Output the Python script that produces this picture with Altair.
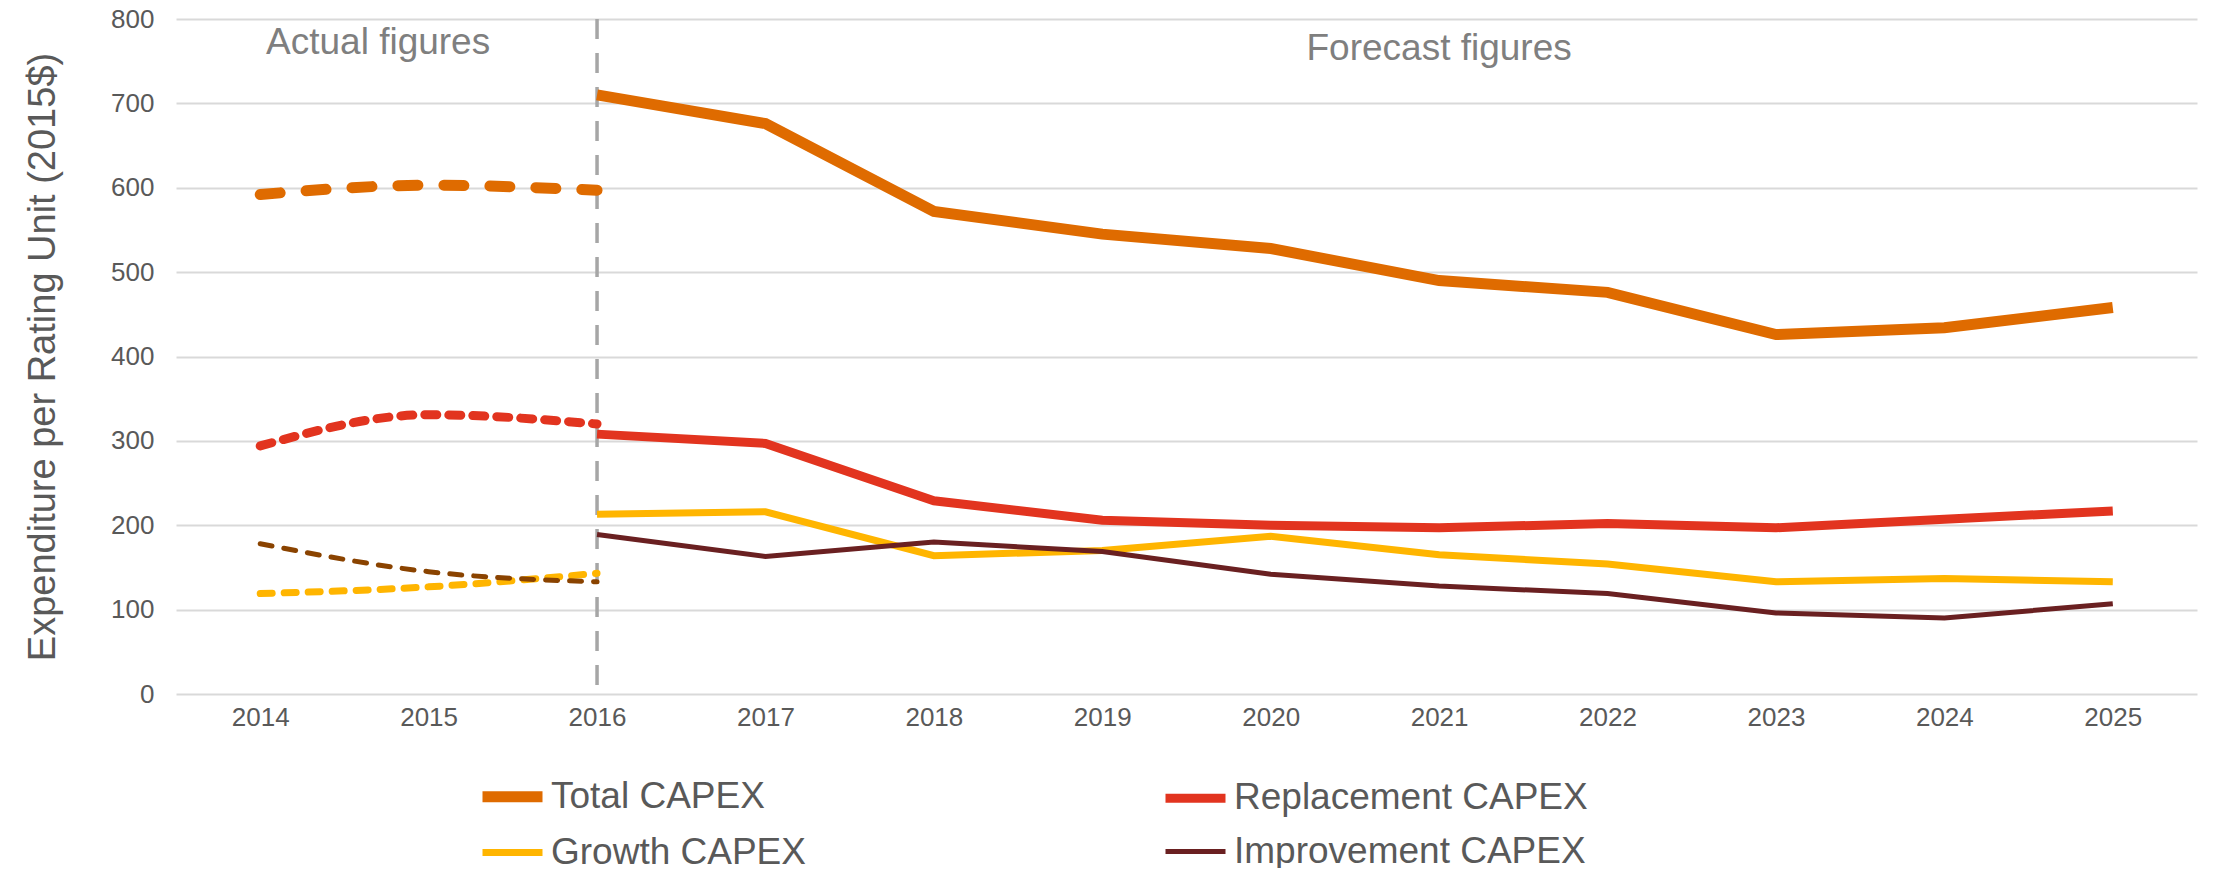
import altair as alt
import pandas as pd

series_names = ["Total CAPEX", "Replacement CAPEX", "Growth CAPEX", "Improvement CAPEX"]
solid_colors = ["#DF6B00", "#E2341F", "#FFB500", "#6A2021"]
dashed_colors = ["#DF6B00", "#E2341F", "#FFB500", "#8A4300"]
line_widths = [11, 5, 5, 5]

actual_years = [2014, 2015, 2016]
actual_total = [592, 603, 597]
actual_replacement = [294, 331, 320]
actual_growth = [119, 127, 143]
actual_improvement = [178, 145, 133]

forecast_years = [2016, 2017, 2018, 2019, 2020, 2021, 2022, 2023, 2024, 2025]
forecast_total = [710, 676, 572, 545, 528, 490, 476, 426, 434, 458]
forecast_replacement = [308, 297, 229, 206, 200, 197, 202, 197, 207, 217]
forecast_growth = [213, 216, 164, 170, 187, 165, 154, 133, 137, 133]
forecast_improvement = [189, 163, 180, 169, 142, 128, 119, 96, 90, 107]

year_ticks = list(range(2014, 2026))
value_ticks = [0, 100, 200, 300, 400, 500, 600, 700, 800]
divider_year = 2016

annotations = ["Actual figures", "Forecast figures"]
annotation_x = [2014.7, 2021.0]
annotation_y = [758, 752]

FONT = "Liberation Sans"


def long_table(years, cols):
    rows = []
    for name, vals in zip(series_names, cols):
        for yr, v in zip(years, vals):
            rows.append({"year": yr, "value": v, "series": name})
    return pd.DataFrame(rows)


actual_df = long_table(actual_years, [actual_total, actual_replacement, actual_growth, actual_improvement])
forecast_df = long_table(forecast_years, [forecast_total, forecast_replacement, forecast_growth, forecast_improvement])
ann_df = pd.DataFrame({"year": annotation_x, "value": annotation_y, "label": annotations})

x_enc = alt.X(
    "year:Q",
    scale=alt.Scale(domain=[2013.5, 2025.5], nice=False, zero=False),
    axis=alt.Axis(values=year_ticks, format="d", title=None, grid=False, ticks=False, domain=False,
                  labelFontSize=26, labelColor="#595959", labelFont=FONT, labelPadding=10),
)
y_enc = alt.Y(
    "value:Q",
    scale=alt.Scale(domain=[0, 800], nice=False),
    axis=alt.Axis(values=value_ticks, title="Expenditure per Rating Unit (2015$)", titleFontSize=38,
                  titleFontWeight="normal", titleColor="#595959", titleFont=FONT, titlePadding=48,
                  labelFontSize=26, labelColor="#595959", labelFont=FONT, labelPadding=22,
                  gridColor="#D9D9D9", gridWidth=2, domain=False, ticks=False),
)

divider = alt.Chart(pd.DataFrame({"year": [divider_year]})).mark_rule(
    color="#A6A6A6", strokeWidth=3.5, strokeDash=[20, 14]
).encode(x=alt.X("year:Q"))

actual = alt.Chart(actual_df).mark_line(interpolate="monotone", strokeCap="round").encode(
    x=x_enc,
    y=y_enc,
    color=alt.Color("series:N", scale=alt.Scale(domain=series_names, range=dashed_colors), legend=None),
    strokeWidth=alt.StrokeWidth("series:N", scale=alt.Scale(domain=series_names, range=line_widths), legend=None),
    strokeDash=alt.StrokeDash("series:N", scale=alt.Scale(domain=series_names,
                                                          range=[[20, 26], [12, 12], [12, 12], [12, 12]]), legend=None),
)

legend = alt.Legend(
    title=None, orient="none", legendX=301, legendY=742, columns=2, columnPadding=341, rowPadding=-14,
    direction="horizontal",
    symbolType="stroke", symbolSize=3600, labelFontSize=37, labelColor="#595959", labelFont=FONT,
    labelOffset=3, labelLimit=0,
)
forecast = alt.Chart(forecast_df).mark_line().encode(
    x=x_enc,
    y=y_enc,
    color=alt.Color("series:N", scale=alt.Scale(domain=series_names, range=solid_colors), legend=legend,
                    sort=series_names),
    strokeWidth=alt.StrokeWidth("series:N", scale=alt.Scale(domain=series_names, range=line_widths),
                                legend=legend, sort=series_names),
)

texts = alt.Chart(ann_df).mark_text(fontSize=37, color="#7F7F7F", font=FONT, baseline="alphabetic").encode(
    x=alt.X("year:Q"), y=alt.Y("value:Q"), text="label:N"
)

chart = alt.layer(divider, actual, forecast, texts).resolve_scale(
    color="independent", strokeWidth="independent", strokeDash="independent"
).properties(
    width=2021, height=675,
    autosize=alt.AutoSizeParams(type="none"),
    padding={"left": 168, "top": 11, "right": 5, "bottom": 174},
).configure_view(stroke=None)

chart.save("out.html", embed_options={"renderer": "svg", "actions": False})
